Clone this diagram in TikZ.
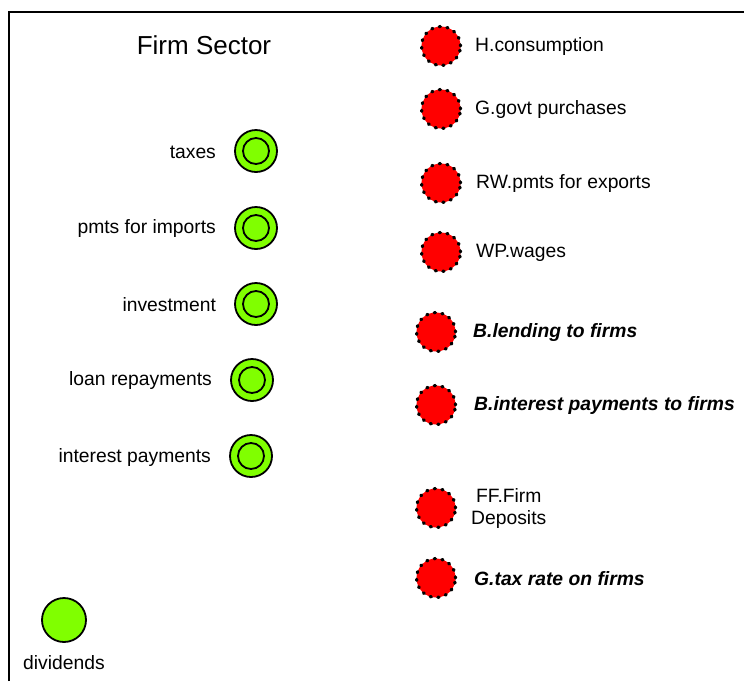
\documentclass[tikz,border=0pt]{standalone}
\usepackage{fontspec}
\setmainfont{Liberation Sans}
\begin{document}
\begin{tikzpicture}[x=1pt,y=-1pt,
  lbl/.style={font=\fontsize{19.3}{22}\selectfont, inner sep=0pt},
  blbl/.style={font=\fontsize{19.3}{22}\selectfont\bfseries\itshape, inner sep=0pt},
  greenstock/.style={circle, fill={rgb,255:red,128;green,255;blue,0}, draw=black, line width=1.8pt, minimum size=42pt, inner sep=0pt},
  redsrc/.style={circle, fill=red, draw=black, line width=3.2pt, dash pattern=on 1.2pt off 6.6pt, line cap=round, minimum size=39pt, inner sep=0pt}]
\useasboundingbox (0,0) rectangle (744,681);
\draw[line width=2.5pt] (9,681) -- (9,12) -- (744,12);
\node[font=\fontsize{26}{30}\selectfont, inner sep=0pt] (title) at (204,45) {Firm Sector};
% green stocks
\foreach \n/\x/\y/\t in {taxes/256/151/taxes, imports/256/228/pmts for imports, invest/256/304/investment, loan/252/380/loan repayments, interest/251/456/interest payments}{
  \node[greenstock] (\n) at (\x,\y) {};
  \draw[black, line width=1.8pt] (\n.center) circle (13pt);
  \node[lbl, anchor=east] (\n-l) at ([xshift=-18pt,yshift=-1pt]\n.west) {\t};
}
\node[greenstock, minimum size=44pt] (div) at (64,620) {};
\node[lbl] (div-l) at (64,663) {dividends};
% red sources
\node[redsrc] (hc) at (441,46) {};
\node[lbl, anchor=west] (hc-l) at (475,47) {H.consumption};
\node[redsrc] (gp) at (441,109) {};
\node[lbl, anchor=west] (gp-l) at (475,110) {G.govt purchases};
\node[redsrc] (rw) at (441,183) {};
\node[lbl, anchor=west] (rw-l) at (476,184) {RW.pmts for exports};
\node[redsrc] (wp) at (441,252) {};
\node[lbl, anchor=west] (wp-l) at (476,253) {WP.wages};
\node[redsrc] (bl) at (436,332) {};
\node[blbl, anchor=west] (bl-l) at (473,333) {B.lending to firms};
\node[redsrc] (bi) at (436,405) {};
\node[blbl, anchor=west] (bi-l) at (474,406) {B.interest payments to firms};
\node[redsrc] (ff) at (436,508) {};
\node[lbl, anchor=west, align=center] (ff-l) at (471,508) {FF.Firm\\Deposits};
\node[redsrc] (gt) at (436,578) {};
\node[blbl, anchor=west] (gt-l) at (474,579) {G.tax rate on firms};
\end{tikzpicture}
\end{document}
